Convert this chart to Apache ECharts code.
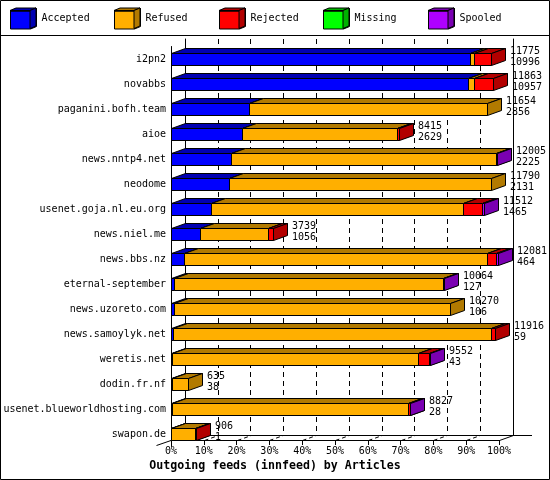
<!DOCTYPE html>
<html><head><meta charset="utf-8">
<script src="https://cdn.jsdelivr.net/npm/echarts@6/dist/echarts.min.js"></script>
<style>html,body{margin:0;padding:0;background:#fff}#c{width:550px;height:480px}</style>
</head><body><div id="c"></div>
<script>
const categories = ['i2pn2','novabbs','paganini.bofh.team','aioe','news.nntp4.net','neodome','usenet.goja.nl.eu.org','news.niel.me','news.bbs.nz','eternal-september','news.uzoreto.com','news.samoylyk.net','weretis.net','dodin.fr.nf','usenet.blueworldhosting.com','swapon.de'];
const offered  = [11775,11863,11654,8415,12005,11790,11512,3739,12081,10064,10270,11916,9552,635,8827,906];
const accepted = [10996,10957,2856,2629,2225,2131,1465,1056,464,127,106,59,43,38,28,1];
const refused  = [150,200,8798,5686,9760,9659,9301,2533,11180,9902,10164,11727,9066,597,8700,870];
const rejected = [629,706,0,100,0,0,699,150,330,0,0,130,393,0,60,35];
const missing  = [0,0,0,0,0,0,0,0,0,0,0,0,0,0,0,0];
const spooled  = [0,0,0,0,20,0,47,0,60,35,0,0,50,0,30,0];
const seriesNames = ['Accepted','Refused','Rejected','Missing','Spooled'];
const tickValues = [0,10,20,30,40,50,60,70,80,90,100];
const axisTitle = 'Outgoing feeds (innfeed) by Articles';

const FRONT = ['#0000FF','#FFAF00','#FF0000','#00FF00','#AF00FF'];
const SIDE  = ['#0000B2','#B27A00','#B20000','#00B200','#7A00B2'];
const FONT = 'DejaVu Sans Mono';
const DX = 14, DY = 5, HALF = 6;
const LEG_X = [10,114,219,323,428];

const segs = [accepted, refused, rejected, missing, spooled];
const scaleMax = Math.max(...offered);
const pct = v => v / scaleMax * 100;
const crisp = v => Math.round(v) + 0.5;

const barSeries = seriesNames.map((name, k) => {
  const data = [];
  categories.forEach((c, i) => {
    let start = 0;
    for (let j = 0; j < k; j++) start += segs[j][i];
    const v = segs[k][i];
    if (v > 0) data.push([i, pct(start), pct(start + v)]);
  });
  return {
    type: 'custom', name, xAxisIndex: 0, yAxisIndex: 0, silent: true,
    itemStyle: {color: FRONT[k], borderColor: '#000', borderWidth: 1},
    encode: {x: [1, 2], y: 0},
    data,
    renderItem(params, api) {
      const cat = api.value(0);
      const a = api.coord([api.value(1), cat]);
      const b = api.coord([api.value(2), cat]);
      const x0 = crisp(a[0]), x1 = crisp(b[0]);
      const yt = crisp(a[1] - HALF), yb = crisp(a[1] + HALF);
      const st = {stroke: '#000', lineWidth: 1};
      return {type: 'group', children: [
        {type: 'polygon', shape: {points: [[x0, yt], [x0 + DX, yt - DY], [x1 + DX, yt - DY], [x1, yt]]}, style: Object.assign({fill: SIDE[k]}, st)},
        {type: 'polygon', shape: {points: [[x1, yt], [x1 + DX, yt - DY], [x1 + DX, yb - DY], [x1, yb]]}, style: Object.assign({fill: SIDE[k]}, st)},
        {type: 'rect', shape: {x: x0, y: yt, width: x1 - x0, height: yb - yt}, style: Object.assign({fill: FRONT[k]}, st)}
      ]};
    }
  };
});

const totals = categories.map((c, i) => segs.reduce((s, arr) => s + arr[i], 0));
const labelSeries = {
  type: 'custom', silent: true, xAxisIndex: 0, yAxisIndex: 0,
  encode: {x: 1, y: 0},
  data: categories.map((c, i) => [i, pct(totals[i]), offered[i], accepted[i]]),
  renderItem(params, api) {
    const p = api.coord([api.value(1), api.value(0)]);
    const x = Math.round(p[0]) + DX + 5;
    const mk = (t, y) => ({type: 'text', x: x, y: y, style: {text: String(t), fill: '#000', font: '10px "DejaVu Sans Mono"', align: 'left', verticalAlign: 'middle', textAlign: 'left', textVerticalAlign: 'middle'}});
    return {type: 'group', children: [mk(api.value(2), Math.round(p[1]) - 8), mk(api.value(3), Math.round(p[1]) + 3)]};
  }
};

const diagSeries = {
  type: 'custom', silent: true, xAxisIndex: 0, yAxisIndex: 0,
  encode: {x: 0},
  data: tickValues.map(v => [v]),
  renderItem(params, api) {
    const v = api.value(0);
    const p = api.coord([v, categories.length - 1]);
    const x = crisp(p[0]), y = crisp(p[1] + HALF);
    const solid = (v === tickValues[0] || v === tickValues[tickValues.length - 1]);
    const sx = v === tickValues[0] ? x - DX - 1 : x;
    const sy = v === tickValues[0] ? y + DY : y;
    return {type: 'line', shape: {x1: sx, y1: sy, x2: x + DX, y2: y - DY},
      style: {stroke: '#000', lineWidth: 1, lineDash: solid ? null : [4, 3]}};
  }
};

const CUBE = 'path://M0,2.5H20V20.5H0Z M0,2.5L6,0H26L20,2.5Z M20,2.5L26,0V18L20,20.5Z';
const legends = seriesNames.map((n, k) => ({
  data: [n], left: LEG_X[k], top: 8, padding: 0, itemWidth: 26, itemHeight: 20.5,
  icon: CUBE, selectedMode: false, itemGap: 0,
  itemStyle: {borderColor: '#000', borderWidth: 1},
  textStyle: {fontFamily: FONT, fontSize: 10, color: '#000'}
}));

const graphics = [];
seriesNames.forEach((n, k) => {
  const L = LEG_X[k];
  graphics.push({type: 'polygon', z: 100, shape: {points: [[L, 10.5], [L + 6, 8], [L + 26, 8], [L + 20, 10.5]]}, style: {fill: SIDE[k], stroke: '#000', lineWidth: 1}});
  graphics.push({type: 'polygon', z: 100, shape: {points: [[L + 20, 10.5], [L + 26, 8], [L + 26, 26], [L + 20, 28.5]]}, style: {fill: SIDE[k], stroke: '#000', lineWidth: 1}});
});
graphics.push({type: 'rect', z: 100, shape: {x: 0.5, y: 0.5, width: 549, height: 479}, style: {fill: 'none', stroke: '#000', lineWidth: 1}});
graphics.push({type: 'line', z: 100, shape: {x1: 0, y1: 35.5, x2: 550, y2: 35.5}, style: {stroke: '#000', lineWidth: 1}});
graphics.push({type: 'line', z: 0, shape: {x1: 513, y1: 435.5, x2: 532, y2: 435.5}, style: {stroke: '#000', lineWidth: 1}});

const chart = echarts.init(document.getElementById('c'), null, {renderer: 'canvas'});
chart.setOption({
  animation: false,
  backgroundColor: '#fff',
  title: {text: axisTitle, left: 'center', top: 460, padding: 0,
    textStyle: {fontFamily: FONT, fontSize: 11.6, fontWeight: 'bold', color: '#000'}},
  legend: legends,
  grid: [
    {left: 171, right: 51, top: 46.5, bottom: 33.5},
    {left: 185, right: 37, top: 39, bottom: 45}
  ],
  xAxis: [
    {gridIndex: 0, type: 'value', min: 0, max: 100, interval: 10, offset: -6.5,
      axisLine: {show: true, lineStyle: {color: '#000'}},
      axisTick: {show: true, length: 5, lineStyle: {color: '#000'}},
      axisLabel: {formatter: '{value}%', margin: 6, fontFamily: FONT, fontSize: 10, color: '#000'},
      splitLine: {show: false}},
    {gridIndex: 1, type: 'value', min: 0, max: 100, interval: 10,
      axisLine: {show: true, lineStyle: {color: '#000'}},
      axisTick: {show: false}, axisLabel: {show: false},
      splitLine: {show: true, lineStyle: {color: '#000', type: [5, 4]}}}
  ],
  yAxis: [
    {gridIndex: 0, type: 'category', inverse: true, data: categories,
      axisLine: {show: true, lineStyle: {color: '#000'}},
      axisTick: {show: false},
      axisLabel: {margin: 5, fontFamily: FONT, fontSize: 10, color: '#000'}},
    {gridIndex: 1, type: 'value', position: 'left', min: 0, max: 1,
      axisLine: {show: true, lineStyle: {color: '#000'}},
      axisTick: {show: false}, axisLabel: {show: false}, splitLine: {show: false}},
    {gridIndex: 1, type: 'value', position: 'right', min: 0, max: 1,
      axisLine: {show: true, lineStyle: {color: '#000'}},
      axisTick: {show: false}, axisLabel: {show: false}, splitLine: {show: false}}
  ],
  graphic: graphics,
  series: [diagSeries].concat(barSeries, [labelSeries])
});
</script></body></html>
